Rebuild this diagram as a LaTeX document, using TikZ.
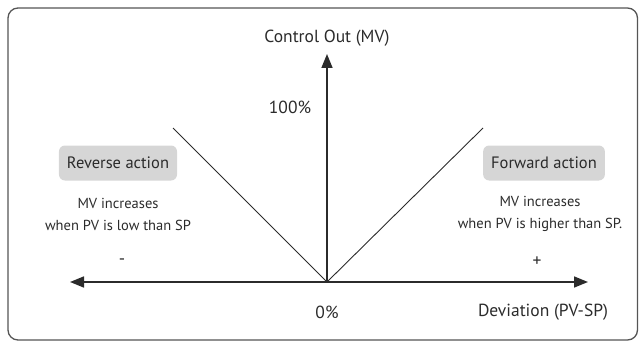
\documentclass[tikz,border=0pt]{standalone}
\usepackage{fontspec}
\setmainfont{PT Sans}
\usetikzlibrary{arrows.meta}
\definecolor{ink}{HTML}{2B2B2B}
\definecolor{boxgray}{HTML}{D6D6D6}
\definecolor{frame}{HTML}{555555}
\tikzset{
  axis/.style={draw=ink, line width=1.6pt, -{Triangle[length=14pt,width=11pt]}},
  diag/.style={draw=ink, line width=0.9pt},
  lbl/.style={text=ink, font=\fontsize{17.5}{20}\selectfont, inner sep=0pt},
  small/.style={text=ink, font=\fontsize{14.5}{22}\selectfont, inner sep=0pt, align=center},
  tag/.style={fill=boxgray, rounded corners=6pt, text=ink, font=\fontsize{16.5}{19}\selectfont, minimum height=35pt, inner xsep=8pt}
}
\begin{document}
\begin{tikzpicture}[x=1pt,y=-1pt]
\useasboundingbox (0,0) rectangle (639,342);
\draw[frame, line width=1.3pt, rounded corners=10pt] (8,8) rectangle (637.5,340);
\coordinate (o) at (327,282);
\coordinate (top) at (327,54);
\coordinate (lft) at (70,282);
\coordinate (rgt) at (588,282);
\coordinate (dl) at (173,128);
\coordinate (dr) at (483,128);
\draw[axis] (o) -- (top);
\draw[axis] (o) -- (lft);
\draw[axis] (o) -- (rgt);
\draw[diag] (o) -- (dl);
\draw[diag] (o) -- (dr);
\node[lbl] (cout) at (327,38) {Control Out (MV)};
\node[lbl] (hundred) at (290,107) {100\%};
\node[lbl] (zero) at (327,312) {0\%};
\node[lbl] (dev) at (543,312) {Deviation (PV-SP)};
\node[lbl] (minus) at (122,262) {-};
\node[lbl] (plus) at (537,262) {+};
\node[tag] (rev) at (118,163) {Reverse action};
\node[tag] (fwd) at (544,163) {Forward action};
\node[small] (revt) at (118,214) {MV increases\\when PV is low than SP};
\node[small] (fwdt) at (540,214) {MV increases\\when PV is higher than SP.};
\end{tikzpicture}
\end{document}
